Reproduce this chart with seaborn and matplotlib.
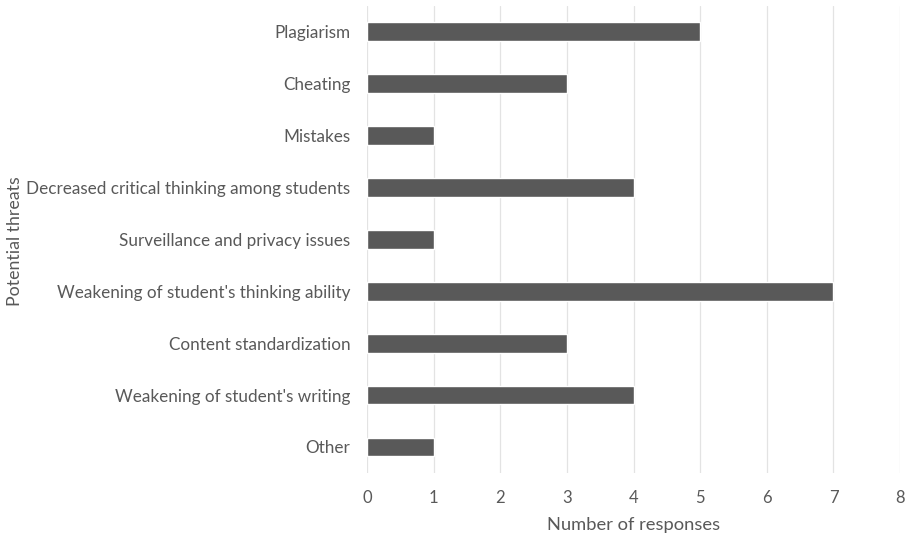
import matplotlib
matplotlib.use("Agg")
import matplotlib.pyplot as plt
import seaborn as sns
import pandas as pd

threats = [
    "Plagiarism",
    "Cheating",
    "Mistakes",
    "Decreased critical thinking among students",
    "Surveillance and privacy issues",
    "Weakening of student's thinking ability",
    "Content standardization",
    "Weakening of student's writing",
    "Other",
]
responses = [5, 3, 1, 4, 1, 7, 3, 4, 1]
x_ticks = [0, 1, 2, 3, 4, 5, 6, 7, 8]

TEXT = "#595959"
BAR = "#595959"

sns.set_style("white")
plt.rcParams["font.family"] = ["Lato", "DejaVu Sans"]

df = pd.DataFrame({"threat": threats, "responses": responses})

fig = plt.figure(figsize=(9.11, 5.35), dpi=100)
ax = fig.add_axes([0.403, 0.116, 0.585, 0.873])

ax.set_axisbelow(True)
for t in x_ticks:
    ax.axvline(t, color="#e3e3e3", lw=0.9, zorder=0)

sns.barplot(data=df, x="responses", y="threat", color=BAR, width=0.36,
            saturation=1, ax=ax, zorder=2)

ax.set_xlim(0, 8)
ax.set_ylim(8.5, -0.5)
ax.set_xticks(x_ticks)
ax.tick_params(axis="both", length=0, colors=TEXT)
ax.tick_params(axis="x", pad=12, labelsize=12)
ax.tick_params(axis="y", pad=12, labelsize=12.3)
for s in ax.spines.values():
    s.set_visible(False)

ax.set_xlabel("Number of responses", color=TEXT, fontsize=13.2, labelpad=8)
ax.set_ylabel("")
fig.text(0.016, 0.55, "Potential threats", rotation=90, color=TEXT,
         fontsize=12.8, ha="center", va="center")

fig.savefig("out.png", dpi=100)
